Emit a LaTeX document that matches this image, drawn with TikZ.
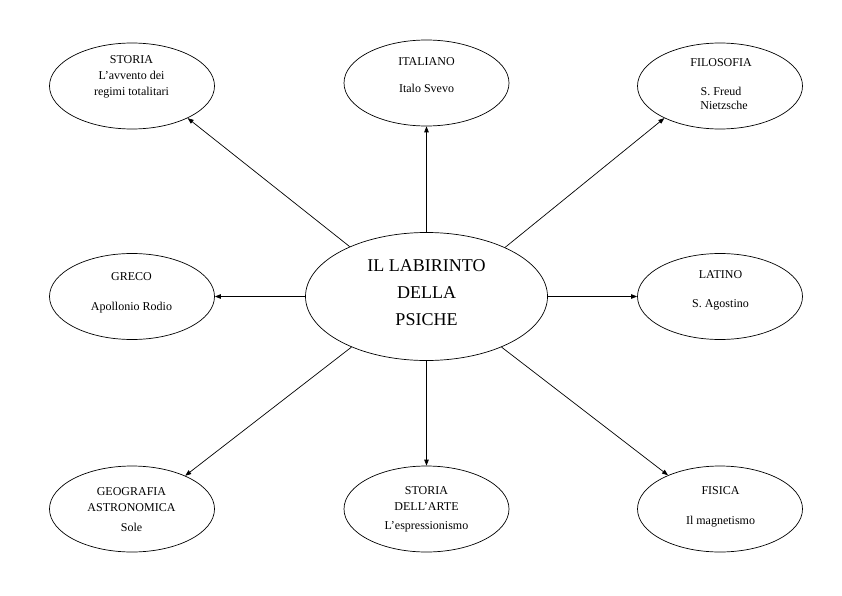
\documentclass[tikz,border=0pt]{standalone}
\usepackage{fontspec}
\setmainfont{Liberation Serif}
\usetikzlibrary{shapes.geometric,arrows.meta}
\begin{document}
\begin{tikzpicture}[x=1pt,y=-1pt,
  oval/.style={ellipse,draw,line width=0.7pt,minimum width=165pt,minimum height=86pt,inner sep=0pt},
  bigoval/.style={ellipse,draw,line width=0.7pt,minimum width=242pt,minimum height=128pt,inner sep=0pt},
  txt/.style={align=center,inner sep=0pt,font=\fontsize{12}{16}\selectfont},
  bigtxt/.style={align=center,inner sep=0pt,font=\fontsize{18}{26.7}\selectfont},
  conn/.style={line width=0.7pt,-{Triangle[length=6pt,width=4.5pt]}}]
\useasboundingbox (0,0) rectangle (842,596);
% ellipses
\node[bigoval] (c) at (426.5,296.5) {};
\node[oval] (storia) at (132,86) {};
\node[oval] (italiano) at (426.5,83) {};
\node[oval] (filosofia) at (720,86) {};
\node[oval] (greco) at (132,296.5) {};
\node[oval] (latino) at (720,296.5) {};
\node[oval] (geografia) at (132,509) {};
\node[oval] (arte) at (426.5,509) {};
\node[oval] (fisica) at (720,509) {};
% texts
\node[bigtxt] (cT) at (426.5,292.7) {IL LABIRINTO\\DELLA\\PSICHE};
\node[txt] (storiaT) at (131.5,77) {STORIA\\L’avvento dei\\regimi totalitari};
\node[txt] (italianoT) at (426.5,75) {ITALIANO\\[10.6pt]Italo Svevo};
\node[txt,font=\fontsize{12}{14}\selectfont] (filosofiaT) at (721,84) {FILOSOFIA\\[15pt]S. Freud\\\hspace*{6pt}Nietzsche};
\node[txt] (grecoT) at (131.5,292.7) {GRECO\\[14.7pt]Apollonio Rodio};
\node[txt] (latinoT) at (720.5,290.5) {LATINO\\[13pt]S. Agostino};
\node[txt] (geografiaT) at (131.5,510) {GEOGRAFIA\\ASTRONOMICA\\[4pt]Sole};
\node[txt] (arteT) at (426.5,509.4) {STORIA\\DELL’ARTE\\[3pt]L’espressionismo};
\node[txt] (fisicaT) at (720.5,506.7) {FISICA\\[14pt]Il magnetismo};
% connectors
\draw[conn] (c.147.6) -- (storia.-30);
\draw[conn] (c.90) -- (italiano.-90);
\draw[conn] (c.32.4) -- (filosofia.210);
\draw[conn] (c.180) -- (greco.0);
\draw[conn] (c.0) -- (latino.180);
\draw[conn] (c.214.5) -- (geografia.32.1);
\draw[conn] (c.-90) -- (arte.90);
\draw[conn] (c.-34.5) -- (fisica.147.9);
\end{tikzpicture}
\end{document}
